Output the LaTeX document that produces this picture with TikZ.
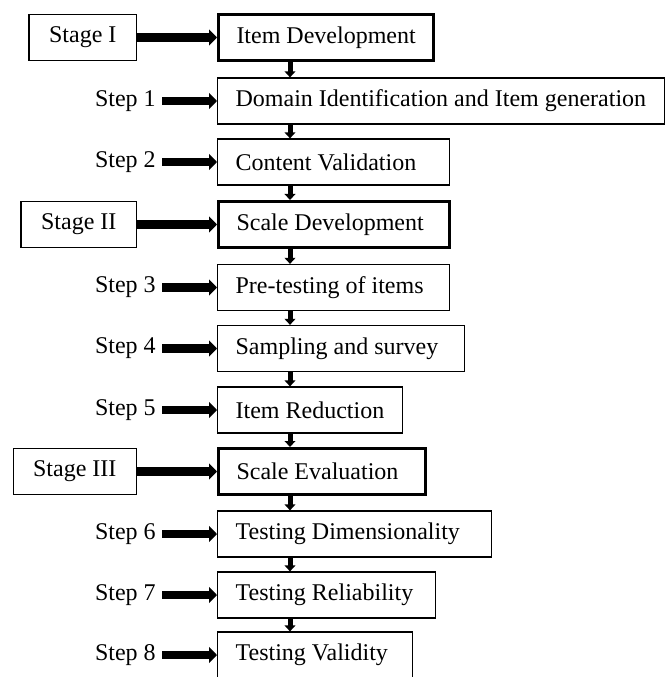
\documentclass[tikz,border=0pt]{standalone}
\usepackage{fontspec}
\setmainfont{Liberation Serif}
\usepackage{tikz}
\usetikzlibrary{arrows.meta,positioning,calc}

\begin{document}
\begin{tikzpicture}[
  x=0.75pt,y=-0.75pt,
  every node/.style={font=\fontsize{18}{21}\selectfont},
  box/.style={draw,line width=0.9pt,anchor=west,minimum height=34.5pt,inner xsep=13.5pt},
  wide/.style={text width=#1,align=flush left},
  mainbox/.style={box,line width=2.25pt},
  stagebox/.style={draw,line width=0.9pt,anchor=east,minimum height=35pt,inner xsep=15pt},
  steplab/.style={anchor=east,inner xsep=4.5pt},
  harrow/.style={line width=6.5pt,-{Triangle[length=6pt,width=12pt]}},
  varrow/.style={line width=3.75pt,-{Triangle[length=4.5pt,width=8pt]}}
]
\useasboundingbox (0,0) rectangle (666,677);
\clip (0,0) rectangle (666,677);
\def\x{217}
\def\s{162}

% stages
\node[stagebox] (stI) at (137,37.5) {Stage I};
\node[stagebox] (stII) at (137,224.5) {Stage II};
\node[stagebox] (stIII) at (137,471.5) {Stage III};

% boxes
\node[mainbox] (itemdev) at (\x,37.5) {Item Development};
\node[box] (domain) at (\x,101) {Domain Identification and Item generation};
\node[box,wide=147pt] (content) at (\x,162) {Content Validation};
\node[mainbox,wide=146.5pt] (scaledev) at (\x,224.5) {Scale Development};
\node[box,wide=147pt] (pretest) at (\x,287.5) {Pre-testing of items};
\node[box,wide=158.25pt] (sampling) at (\x,348.5) {Sampling and survey};
\node[box] (reduction) at (\x,410) {Item Reduction};
\node[mainbox,wide=128.5pt] (scaleeval) at (\x,471.5) {Scale Evaluation};
\node[box,wide=178.5pt] (dimens) at (\x,534) {Testing Dimensionality};
\node[box,wide=136.5pt] (reliab) at (\x,595) {Testing Reliability};
\node[box,wide=119.25pt] (valid) at (\x,655) {Testing Validity};

% step labels
\node[steplab] (step1) at (\s,101) {Step 1};
\node[steplab] (step2) at (\s,162) {Step 2};
\node[steplab] (step3) at (\s,287.5) {Step 3};
\node[steplab] (step4) at (\s,348.5) {Step 4};
\node[steplab] (step5) at (\s,410) {Step 5};
\node[steplab] (step6) at (\s,534) {Step 6};
\node[steplab] (step7) at (\s,595) {Step 7};
\node[steplab] (step8) at (\s,655) {Step 8};

\draw[harrow] (stI) -- (itemdev);
\draw[harrow] (stII) -- (scaledev);
\draw[harrow] (stIII) -- (scaleeval);
\draw[harrow] (step1) -- (domain);
\draw[harrow] (step2) -- (content);
\draw[harrow] (step3) -- (pretest);
\draw[harrow] (step4) -- (sampling);
\draw[harrow] (step5) -- (reduction);
\draw[harrow] (step6) -- (dimens);
\draw[harrow] (step7) -- (reliab);
\draw[harrow] (step8) -- (valid);

% down arrows
\draw[varrow] ([xshift=54.75pt]itemdev.south west) -- ([xshift=54.75pt]domain.north west);
\draw[varrow] ([xshift=54.75pt]domain.south west) -- ([xshift=54.75pt]content.north west);
\draw[varrow] ([xshift=54.75pt]content.south west) -- ([xshift=54.75pt]scaledev.north west);
\draw[varrow] ([xshift=54.75pt]scaledev.south west) -- ([xshift=54.75pt]pretest.north west);
\draw[varrow] ([xshift=54.75pt]pretest.south west) -- ([xshift=54.75pt]sampling.north west);
\draw[varrow] ([xshift=54.75pt]sampling.south west) -- ([xshift=54.75pt]reduction.north west);
\draw[varrow] ([xshift=54.75pt]reduction.south west) -- ([xshift=54.75pt]scaleeval.north west);
\draw[varrow] ([xshift=54.75pt]scaleeval.south west) -- ([xshift=54.75pt]dimens.north west);
\draw[varrow] ([xshift=54.75pt]dimens.south west) -- ([xshift=54.75pt]reliab.north west);
\draw[varrow] ([xshift=54.75pt]reliab.south west) -- ([xshift=54.75pt]valid.north west);
\end{tikzpicture}
\end{document}
